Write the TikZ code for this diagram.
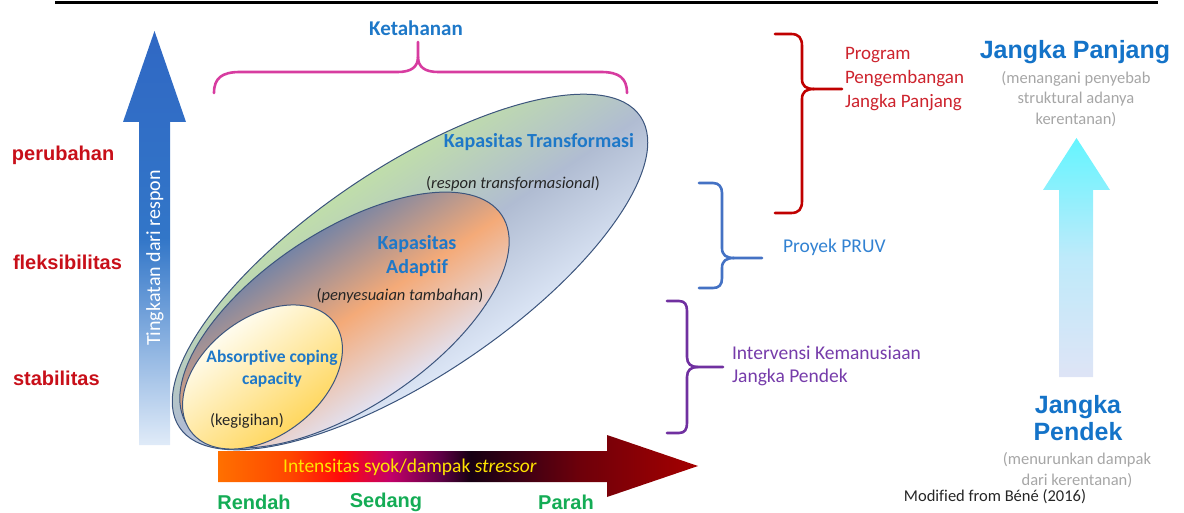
\documentclass[tikz,border=0pt]{standalone}
\usepackage{fontspec}
\setmainfont{Carlito}[Ligatures=NoCommon]
\newfontfamily\arialfam{Liberation Sans}
\usetikzlibrary{shadings}
\definecolor{lblred}{RGB}{200,15,25}
\definecolor{txtblue}{RGB}{30,120,200}
\definecolor{bigblue}{RGB}{20,115,200}
\definecolor{grn}{RGB}{20,172,85}
\definecolor{gry}{RGB}{166,166,166}
\definecolor{dk}{RGB}{38,38,38}
\definecolor{magb}{RGB}{215,60,160}
\definecolor{redb}{RGB}{192,0,0}
\definecolor{redt}{RGB}{205,35,45}
\definecolor{blueb}{RGB}{68,114,196}
\definecolor{bluet}{RGB}{50,130,210}
\definecolor{purp}{RGB}{112,48,160}
\definecolor{purpt}{RGB}{118,60,170}
\definecolor{edge}{RGB}{60,85,125}
\definecolor{tgreen}{RGB}{192,222,170}
\definecolor{tgray}{RGB}{176,188,210}
\definecolor{tlight}{RGB}{220,230,246}
\definecolor{agray}{RGB}{118,132,165}
\definecolor{aorange}{RGB}{244,170,120}
\definecolor{alight}{RGB}{226,226,242}
\definecolor{ylight}{RGB}{255,252,238}
\definecolor{ydark}{RGB}{255,215,95}
\definecolor{bltop}{RGB}{48,104,196}
\definecolor{blmid}{RGB}{50,118,200}
\definecolor{blbot}{RGB}{224,235,248}
\definecolor{cytop}{RGB}{100,245,255}
\definecolor{cymid}{RGB}{190,234,250}
\definecolor{cybot}{RGB}{222,228,246}
\definecolor{ic0}{RGB}{255,112,0}
\definecolor{ic1}{RGB}{255,70,0}
\definecolor{ic2}{RGB}{255,10,10}
\definecolor{ic3}{RGB}{195,0,105}
\definecolor{ic4}{RGB}{95,0,70}
\definecolor{ic5}{RGB}{22,0,18}
\definecolor{ic6}{RGB}{60,0,20}
\definecolor{ic7}{RGB}{110,0,10}
\definecolor{ic8}{RGB}{165,0,0}
\definecolor{intyel}{RGB}{255,228,0}
\pgfdeclarehorizontalshading{intens}{100bp}{color(0bp)=(ic0); color(25bp)=(ic0); color(32.5bp)=(ic1); color(37.7bp)=(ic2); color(42.9bp)=(ic3); color(48.1bp)=(ic4); color(51.3bp)=(ic5); color(56.5bp)=(ic6); color(62.7bp)=(ic7); color(75bp)=(ic8); color(100bp)=(ic8)}
\newcommand\fsz[2]{\fontsize{#1}{#2}\selectfont}
\begin{document}
\begin{tikzpicture}[x=1pt,y=-1pt,
  txt/.style={inner sep=0pt, outer sep=0pt},
  lvl/.style={txt, anchor=west, text=lblred, font=\arialfam\bfseries\fsz{20}{24}},
  sev/.style={txt, text=grn, font=\arialfam\bfseries\fsz{20}{24}},
  capt/.style={txt, text=txtblue, font=\bfseries\fsz{20}{24}, align=center},
  paren/.style={txt, text=dk, font=\fsz{16.5}{20}},
  big/.style={txt, text=bigblue, font=\arialfam\bfseries\fsz{25}{27.5}, align=center},
  note/.style={txt, text=gry, font=\fsz{16.5}{20.5}, align=center},
  brace/.style={line width=2.6pt, line cap=round, line join=round},
  ell/.style={draw=edge, line width=1pt}
]
\useasboundingbox (0,0) rectangle (1184,513);
% top rule
\coordinate (ruleL) at (55,3);
\coordinate (ruleR) at (1158,3);
\draw[line width=3pt] (ruleL) -- (ruleR);

% ellipses
\begin{scope}[transform canvas={shift={(410,272)}, rotate=34}]
  \shadedraw[ell, top color=tgreen, bottom color=tlight, middle color=tgray] (0,0) ellipse [x radius=278pt, y radius=104pt];
\end{scope}
\begin{scope}[transform canvas={shift={(344.5,320)}, rotate=33.7}]
  \shadedraw[ell, top color=agray, bottom color=alight, middle color=aorange] (0,0) ellipse [x radius=189pt, y radius=88pt];
\end{scope}
\begin{scope}[transform canvas={shift={(262.5,377)}, rotate=37.5}]
  \shadedraw[ell, top color=ylight, bottom color=ydark] (0,0) ellipse [x radius=90pt, y radius=59pt];
\end{scope}

% vertical blue arrow
\shade[top color=bltop, bottom color=blbot, middle color=blmid]
  (139,445) -- (139,122) -- (123,122) -- (154.5,31) -- (186,122) -- (170,122) -- (170,445) -- cycle;
\node[txt, rotate=90, text=white, font=\fsz{20}{24}] (resp) at (155,258) {Tingkatan dari respon};

% horizontal intensity arrow
\shade[shading=intens] (218,451) -- (607,451) -- (607,435) -- (698,466) -- (607,497) -- (607,482) -- (218,482) -- cycle;
\node[txt, text=intyel, font=\fsz{19.5}{22}] (intens) at (410,467) {Intensitas syok/dampak \textit{stressor}};

% right cyan arrow
\shade[top color=cytop, bottom color=cybot, middle color=cymid]
  (1059,377) -- (1059,190) -- (1043,190) -- (1076.5,138) -- (1110,190) -- (1093,190) -- (1093,377) -- cycle;

% left level labels
\node[lvl] (perub) at (12,155) {perubahan};
\node[lvl] (fleks) at (13,262) {fleksibilitas};
\node[lvl] (stab) at (13,378) {stabilitas};

% Ketahanan brace
\node[txt, text=txtblue, font=\bfseries\fsz{21}{24}] (keta) at (416,28) {Ketahanan};
\coordinate (kL) at (214,93);
\coordinate (kT) at (418,42);
\coordinate (kR) at (627,93);
\draw[brace, magb] (kL) .. controls (214,78) and (222,72) .. (240,72) -- (398,72) .. controls (411,72) and (418,67) .. (418,57) -- (kT);
\draw[brace, magb] (418,57) .. controls (418,67) and (425,72) .. (438,72) -- (601,72) .. controls (619,72) and (627,78) .. (kR);

% ellipse texts
\node[capt] (ktrans) at (539,142) {Kapasitas Transformasi};
\node[paren] (rtrans) at (513,184) {(\textit{respon transformasional})};
\node[capt] (kadapt) at (417,256) {Kapasitas\\Adaptif};
\node[paren] (peny) at (400,296) {(\textit{penyesuaian tambahan})};
\node[capt, font=\bfseries\fsz{17.5}{22}] (absorp) at (272,369) {Absorptive coping\\capacity};
\node[paren] (kegi) at (247,421) {(kegigihan)};

% severity labels
\node[sev] (rendah) at (254,502) {Rendah};
\node[sev] (sedang) at (386,502) {Sedang};
\node[sev] (parah) at (566,502) {Parah};

% red brace
\coordinate (rT) at (775,34);
\coordinate (rB) at (775,213);
\coordinate (rTip) at (842,89);
\draw[brace, redb] (rT) -- (791,34) .. controls (799,34) and (802,38) .. (802,46) -- (802,79) .. controls (802,86) and (806,89) .. (814,89) -- (rTip);
\draw[brace, redb] (814,89) .. controls (806,89) and (802,92) .. (802,99) -- (802,201) .. controls (802,209) and (799,213) .. (791,213) -- (rB);
\node[txt, anchor=west, text=redt, font=\fsz{19}{24}, align=left] (prog) at (845,79) {Program\\Pengembangan\\Jangka Panjang};

% blue brace
\coordinate (bT) at (699,183);
\coordinate (bB) at (699,288);
\coordinate (bTip) at (762,258);
\draw[brace, blueb] (bT) -- (713,183) .. controls (719,183) and (722,187) .. (722,193) -- (722,248) .. controls (722,255) and (726,258) .. (734,258) -- (bTip);
\draw[brace, blueb] (734,258) .. controls (726,258) and (722,261) .. (722,268) -- (722,278) .. controls (722,285) and (719,288) .. (713,288) -- (bB);
\node[txt, anchor=west, text=bluet, font=\fsz{19.5}{24}] (pruv) at (783,247) {Proyek PRUV};

% purple brace
\coordinate (pT) at (667,301);
\coordinate (pB) at (667,433);
\coordinate (pTip) at (723,367);
\draw[brace, purp] (pT) -- (679,301) .. controls (685,301) and (687,305) .. (687,311) -- (687,357) .. controls (687,364) and (691,367) .. (698,367) -- (pTip);
\draw[brace, purp] (698,367) .. controls (691,367) and (687,370) .. (687,377) -- (687,423) .. controls (687,429) and (685,433) .. (679,433) -- (pB);
\node[txt, anchor=west, text=purpt, font=\fsz{19.5}{23}, align=left] (interv) at (732,366) {Intervensi Kemanusiaan\\Jangka Pendek};

% right column
\node[big] (jpanj) at (1075,52) {Jangka Panjang};
\node[note] (menang) at (1076,99) {(menangani penyebab\\struktural adanya\\kerentanan)};
\node[big] (jpend) at (1078,418) {Jangka\\Pendek};
\node[note] (menur) at (1077,470) {(menurunkan dampak\\dari kerentanan)};
\node[txt, text=dk, font=\fsz{16.5}{20}] (mod) at (995,497) {Modified from Béné (2016)};
\end{tikzpicture}
\end{document}
